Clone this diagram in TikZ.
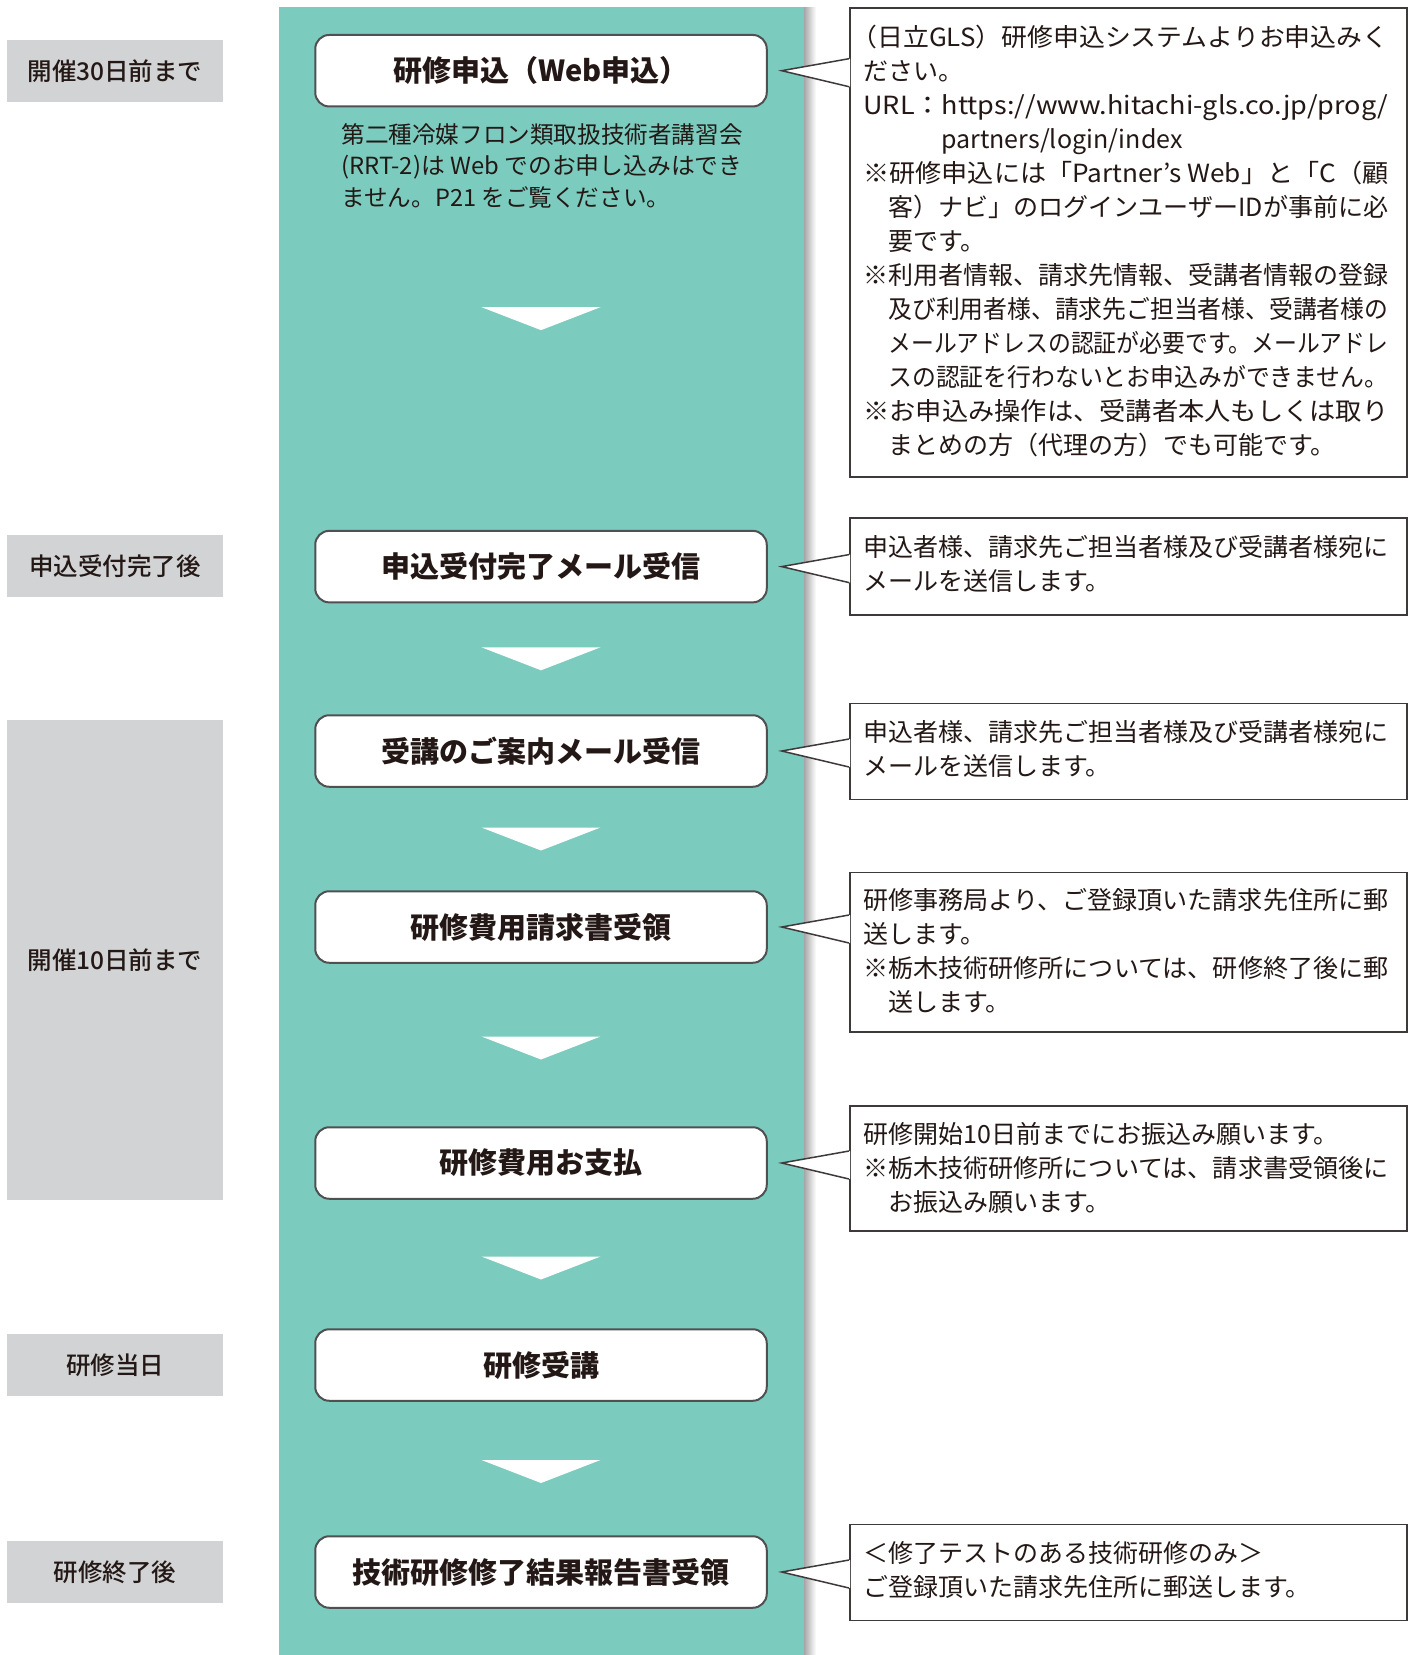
\documentclass[tikz,border=0pt]{standalone}
\usepackage{fontspec}
\usepackage{graphicx}
\setmainfont{Noto Sans CJK JP}
\newfontfamily\jpmed{Noto Sans CJK JP}[UprightFont=* Medium]
\usetikzlibrary{calc}
\definecolor{teal1}{RGB}{123,203,190}
\definecolor{lblgray}{RGB}{209,211,212}
\definecolor{ink}{RGB}{35,24,21}
\definecolor{boxline}{RGB}{80,80,80}
\definecolor{cline}{RGB}{62,58,57}
\newcommand{\fitline}[2]{\resizebox{#1}{\height}{#2}}
\newcommand{\fl}[1]{\fitline{262.5pt}{#1}}
\newcommand{\il}[1]{\hspace*{12.5pt}\fitline{250pt}{#1}}
\newcommand{\ind}{\hspace*{12.5pt}}
\begin{document}
\begin{tikzpicture}[x=0.5pt,y=-0.5pt,
  stepbox/.style={draw=boxline, line width=1pt, fill=white, rounded corners=7pt,
    minimum width=225.75pt, minimum height=35.75pt, inner sep=0pt,
    font=\fontsize{14.5pt}{17pt}\selectfont\bfseries, text=ink},
  lbl/.style={fill=lblgray, minimum width=107.6pt, inner sep=0pt,
    font=\fontsize{12.25pt}{14pt}\selectfont\jpmed, text=ink},
  cbox/.style={draw=cline, line width=0.75pt, fill=white, minimum width=278.5pt,
    inner sep=0pt, anchor=north west},
  ctext/.style={inner sep=0pt, anchor=north west, align=left, text=ink,
    font=\fontsize{12.5pt}{17pt}\selectfont},
  ptr/.style={draw=cline, line width=0.75pt},
  tri/.style={fill=white}
]
\useasboundingbox (0,0) rectangle (1416,1655);
\fill[white] (0,0) rectangle (1416,1655);
% teal column
\fill[teal1] (278.5,7.4) rectangle (804,1655);
\shade[left color=black!35, right color=white] (804,7.4) rectangle (816,1655);

% labels
\node[lbl, minimum height=31pt] (l1) at (115,71) {開催30日前まで};
\node[lbl, minimum height=31pt] (l2) at (115,566) {申込受付完了後};
\node[lbl, minimum height=240.2pt] (l3) at (115,960) {開催10日前まで};
\node[lbl, minimum height=31pt] (l4) at (115,1365) {研修当日};
\node[lbl, minimum height=31pt] (l5) at (115,1572) {研修終了後};

% steps
\node[stepbox] (s1) at (541,70.7) {研修申込（Web申込）};
\node[stepbox] (s2) at (541,566.6) {申込受付完了メール受信};
\node[stepbox] (s3) at (541,751) {受講のご案内メール受信};
\node[stepbox] (s4) at (541,927) {研修費用請求書受領};
\node[stepbox] (s5) at (541,1163) {研修費用お支払};
\node[stepbox] (s6) at (541,1365) {研修受講};
\node[stepbox] (s7) at (541,1572) {技術研修修了結果報告書受領};

% note under step 1
\node[inner sep=0pt, anchor=north west, align=left, text=ink,
  font=\fontsize{11.8pt}{15.8pt}\selectfont] (note) at (341,123)
  {第二種冷媒フロン類取扱技術者講習会\\
   \fitline{200.5pt}{(RRT-2)は Web でのお申し込みはでき}\\
   ません。P21 をご覧ください。};

% arrows between steps
\foreach \a/\b/\d in {s1/s2/0, s2/s3/0, s3/s4/0, s4/s5/3, s5/s6/4, s6/s7/3}{
  \coordinate (m\a) at ($(\a.south)!0.5!(\b.north)+(0,\d)$);
  \fill[tri] ($(m\a)+(-59.5,-11.5)$) -- ($(m\a)+(59.5,-11.5)$) -- ($(m\a)+(0,11.5)$) -- cycle;
}

% callouts
\node[cbox, minimum height=234.3pt] (c1) at (849,7.4) {};
\node[cbox, minimum height=48.5pt] (c2) at (849,517) {};
\node[cbox, minimum height=48pt] (c3) at (849,702.7) {};
\node[cbox, minimum height=79.75pt] (c4) at (849,871.5) {};
\node[cbox, minimum height=62.5pt] (c5) at (849,1105) {};
\node[cbox, minimum height=48pt] (c7) at (849,1523.5) {};

\foreach \s/\c in {s1/c1, s2/c2, s3/c3, s4/c4, s5/c5, s7/c7}{
  \coordinate (t\s) at ($(\s.east)+(14,0)$);
  \fill[white] ($(\c.west |- t\s)+(1.2,-12)$) -- (t\s) -- ($(\c.west |- t\s)+(1.2,16)$) -- cycle;
  \draw[ptr] ($(\c.west |- t\s)+(0,-12)$) -- (t\s) -- ($(\c.west |- t\s)+(0,16)$);
}

\node[ctext] (ct1) at (863,25) {%
\hspace*{-6pt}\fitline{268.5pt}{（日立GLS）研修申込システムよりお申込みく}\\
ださい。\\
\fl{URL：https://www.hitachi-gls.co.jp/prog/}\\
\hspace*{39pt}partners/login/index\\
\fl{※研修申込には「Partner's Web」と「C（顧}\\
\il{客）ナビ」のログインユーザーIDが事前に必}\\
\ind 要です。\\
\fl{※利用者情報、請求先情報、受講者情報の登録}\\
\il{及び利用者様、請求先ご担当者様、受講者様の}\\
\il{メールアドレスの認証が必要です。メールアドレ}\\
\il{スの認証を行わないとお申込みができません。}\\
\fl{※お申込み操作は、受講者本人もしくは取り}\\
\ind まとめの方（代理の方）でも可能です。};

\node[ctext] (ct2) at (863,534.5) {%
\fl{申込者様、請求先ご担当者様及び受講者様宛に}\\
メールを送信します。};

\node[ctext] (ct3) at (863,720.2) {%
\fl{申込者様、請求先ご担当者様及び受講者様宛に}\\
メールを送信します。};

\node[ctext] (ct4) at (863,888.5) {%
\fl{研修事務局より、ご登録頂いた請求先住所に郵}\\
送します。\\
\fl{※栃木技術研修所については、研修終了後に郵}\\
\ind 送します。};

\node[ctext] (ct5) at (863,1121.5) {%
研修開始10日前までにお振込み願います。\\
\fl{※栃木技術研修所については、請求書受領後に}\\
\ind お振込み願います。};

\node[ctext] (ct7) at (863,1541) {%
＜修了テストのある技術研修のみ＞\\
ご登録頂いた請求先住所に郵送します。};
\end{tikzpicture}
\end{document}
